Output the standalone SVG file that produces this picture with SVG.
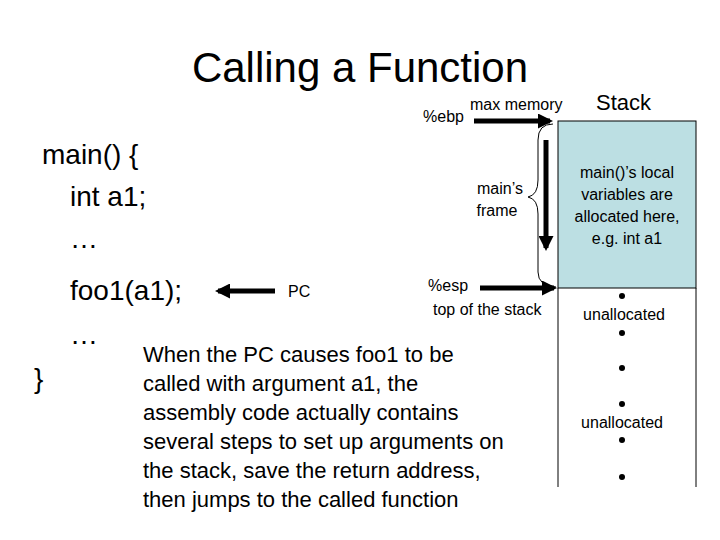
<svg xmlns="http://www.w3.org/2000/svg" width="720" height="540" viewBox="0 0 720 540">
<style>
text{font-family:"Liberation Sans",Arial,sans-serif;fill:#000}
.a{stroke:#000;stroke-width:5;fill:none}
.s{font-size:16px}
.b{font-size:28px}
.t{font-size:22px}
</style>
<defs>
<marker id="ah" viewBox="0 0 10 10" refX="8" refY="5" markerWidth="3" markerHeight="3" orient="auto"><path d="M0,0L10,5L0,10z" fill="#000"/></marker>
</defs>
<rect width="720" height="540" fill="#fff"/>
<text x="360" y="82" font-size="42" text-anchor="middle">Calling a Function</text>
<g id="code" class="b">
<text x="42" y="164">main() {</text>
<text x="70" y="206">int a1;</text>
<text x="70" y="248">…</text>
<text x="70" y="300">foo1(a1);</text>
<text x="70" y="344">…</text>
<text x="34" y="388">}</text>
</g>
<g id="stack">
<rect x="558" y="121" width="138" height="167" fill="#bcdfe3" stroke="#000" stroke-width="1"/>
<path d="M558,288V487M696,288V487" stroke="#000" stroke-width="1"/>
<text class="s" text-anchor="middle"><tspan x="627" y="178">main()’s local</tspan><tspan x="627" y="200">variables are</tspan><tspan x="627" y="222">allocated here,</tspan><tspan x="627" y="244">e.g. int a1</tspan></text>
<text class="s" x="624" y="320" text-anchor="middle">unallocated</text>
<text class="s" x="622" y="428" text-anchor="middle">unallocated</text>
<g fill="#000"><circle cx="622" cy="296" r="3"/><circle cx="622" cy="333" r="3"/><circle cx="622" cy="368" r="3"/><circle cx="622" cy="404" r="3"/><circle cx="622" cy="440" r="3"/><circle cx="622" cy="477" r="3"/></g>
</g>
<text x="596" y="110" font-size="22">Stack</text>
<text class="s" x="470" y="110">max memory</text>
<text class="s" x="423" y="122">%ebp</text>
<text class="s" x="428" y="291">%esp</text>
<text class="s" x="433" y="315">top of the stack</text>
<text class="s" text-anchor="middle"><tspan x="500" y="194">main’s</tspan><tspan x="497" y="216">frame</tspan></text>
<text class="s" x="288" y="297">PC</text>
<g id="connectors">
<path class="a" d="M474,121H550" marker-end="url(#ah)"/>
<path class="a" d="M480,288H554" marker-end="url(#ah)"/>
<path class="a" d="M546,140V248" marker-end="url(#ah)"/>
<path class="a" d="M275,291H218" marker-end="url(#ah)"/>
<path d="M553,124Q538,124 538,140V180Q538,195 528,197Q538,199 538,214V272Q538,286 556,287" stroke="#000" stroke-width="1" fill="none"/>
</g>
<text class="t"><tspan x="143" y="362">When the PC causes foo1 to be</tspan><tspan x="143" y="391">called with argument a1, the</tspan><tspan x="143" y="420">assembly code actually contains</tspan><tspan x="143" y="449">several steps to set up arguments on</tspan><tspan x="143" y="478">the stack, save the return address,</tspan><tspan x="143" y="507">then jumps to the called function</tspan></text>
</svg>
